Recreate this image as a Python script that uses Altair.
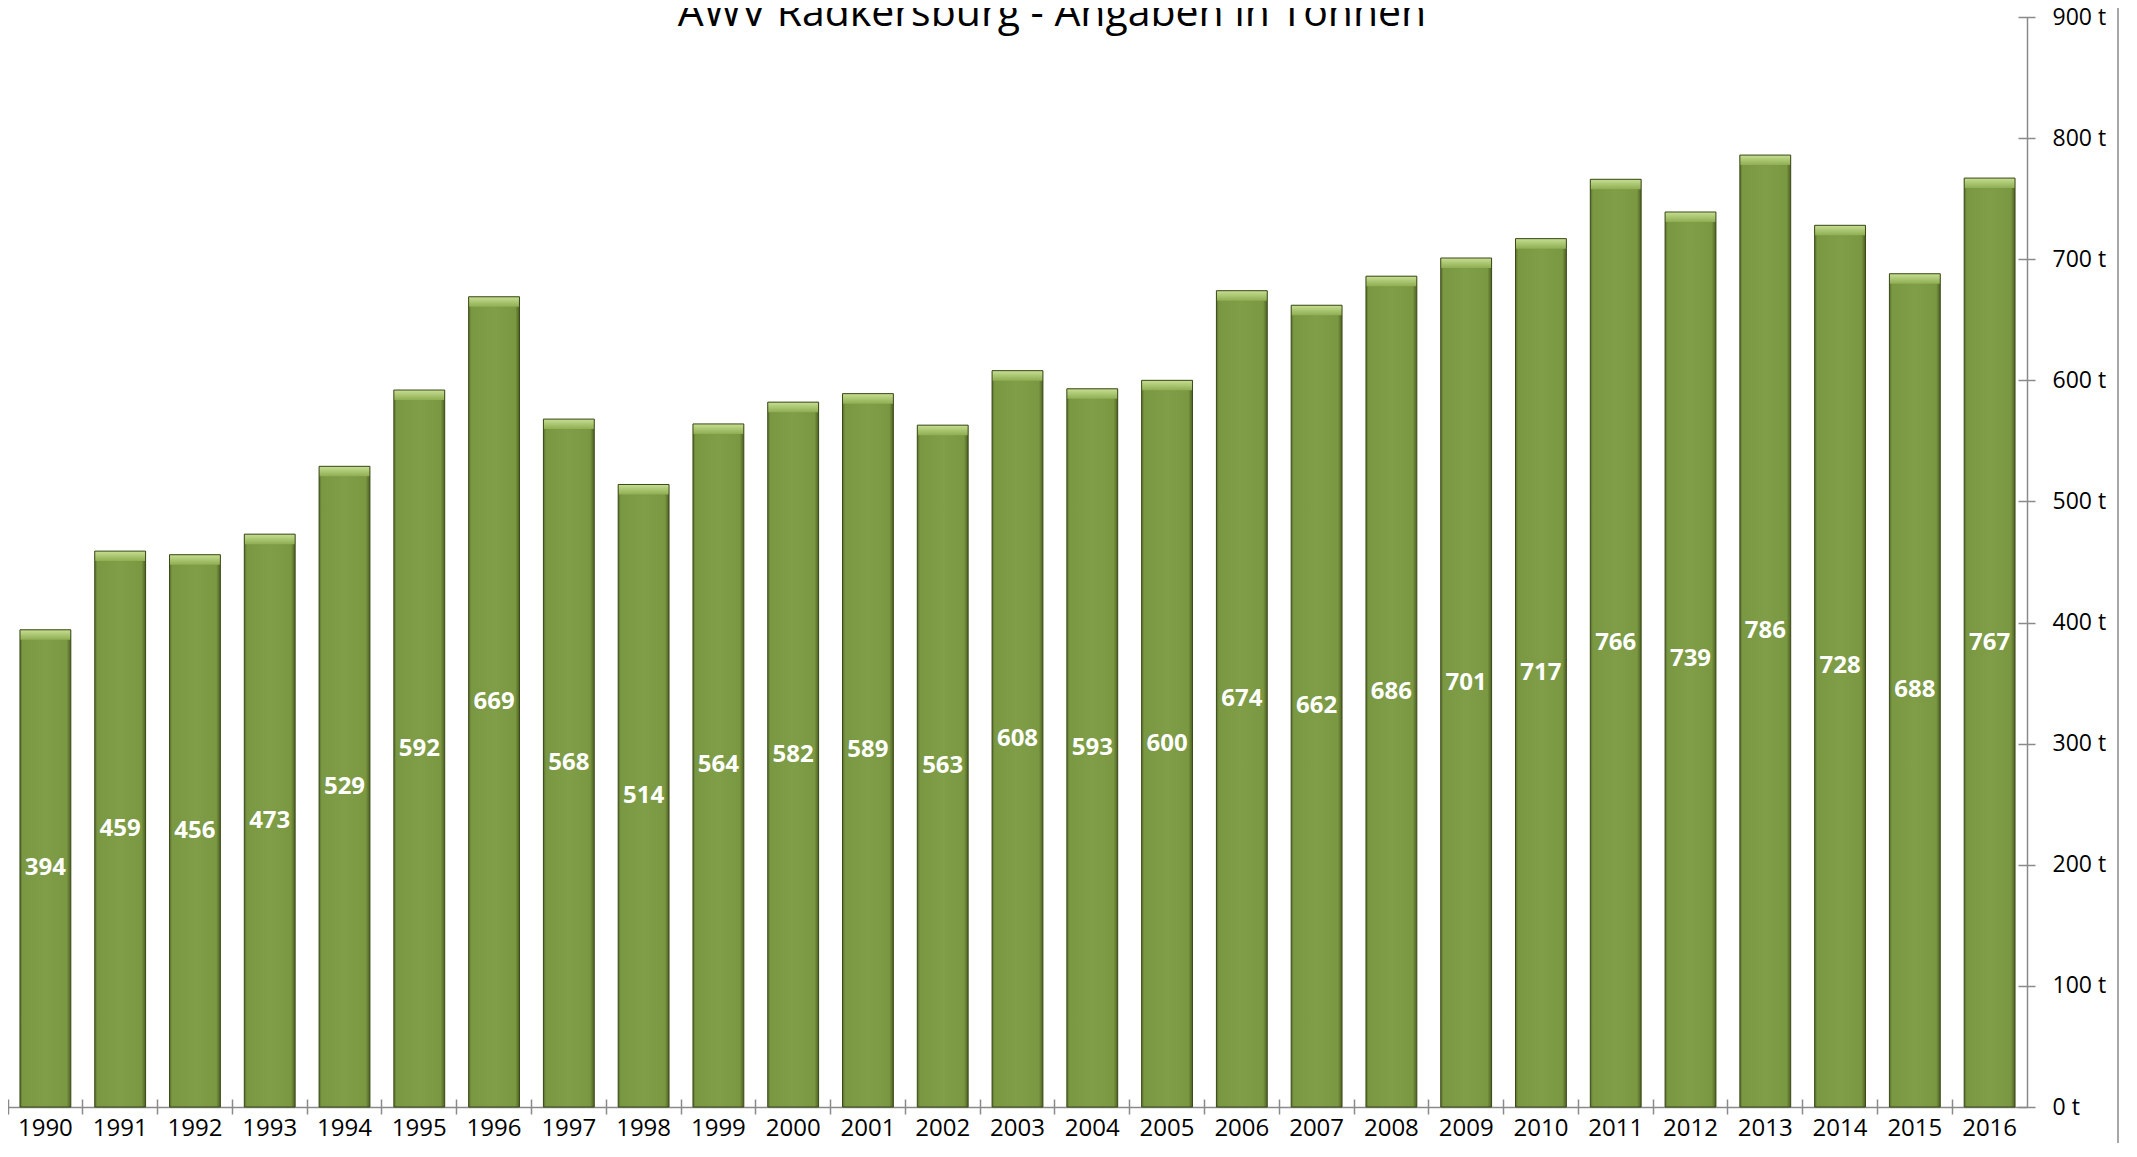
import altair as alt
import pandas as pd

years = [str(y) for y in range(1990, 2017)]
values = [394, 459, 456, 473, 529, 592, 669, 568, 514, 564, 582, 589, 563, 608,
          593, 600, 674, 662, 686, 701, 717, 766, 739, 786, 728, 688, 767]
y_ticks = [0, 100, 200, 300, 400, 500, 600, 700, 800, 900]
title_text = ["AWV Radkersburg - Angaben in Tonnen"]

df = pd.DataFrame({"year": years, "value": values})

AX = "#8a8a8a"
FONT = "Open Sans"

xscale = alt.Scale(paddingInner=0, paddingOuter=0)
yscale = alt.Scale(domain=[0, 900], nice=False)

base = alt.Chart(df)

bar_fill = alt.Gradient(
    gradient="linear", x1=0, x2=1, y1=0, y2=0,
    stops=[alt.GradientStop(color="#566f2a", offset=0),
           alt.GradientStop(color="#7a9742", offset=0.05),
           alt.GradientStop(color="#809d47", offset=0.5),
           alt.GradientStop(color="#7a9742", offset=0.92),
           alt.GradientStop(color="#4d6223", offset=1)])

bevel_fill = alt.Gradient(
    gradient="linear", x1=0, x2=0, y1=0, y2=1,
    stops=[alt.GradientStop(color="#c6df92", offset=0),
           alt.GradientStop(color="#8fae52", offset=1)])

bars = base.mark_bar(width={"band": 0.68}, fill=bar_fill).encode(
    x=alt.X("year:O", scale=xscale, title=None,
            axis=alt.Axis(orient="bottom", offset=-8, tickSize=15, tickColor=AX,
                          tickWidth=1.5, domain=False, bandPosition=0, labelAngle=0,
                          labelFont=FONT, labelFontSize=24, labelColor="black",
                          labelBaseline="alphabetic", labelPadding=21, grid=False)),
    y=alt.Y("value:Q", scale=yscale, title=None,
            axis=alt.Axis(orient="right", values=y_ticks, offset=-9, tickSize=17,
                          tickColor=AX, tickWidth=1.5, domain=False,
                          labelExpr="datum.label + ' t'", labelFont=FONT,
                          labelFontSize=23, labelColor="black", labelPadding=17,
                          labelBaseline="middle", grid=False)),
)

bevel = base.mark_bar(width={"band": 0.68}, fill=bevel_fill, y2Offset=10).encode(
    x=alt.X("year:O", scale=xscale, title=None,
            axis=alt.Axis(orient="bottom", domain=True, domainColor=AX, domainWidth=1.5,
                          ticks=False, labels=False, grid=False)),
    y=alt.Y("value:Q", scale=yscale, title=None,
            axis=alt.Axis(orient="right", domain=True, domainColor=AX, domainWidth=1.5,
                          ticks=False, labels=False, grid=False)),
    y2="value:Q",
)

outline = base.mark_bar(width={"band": 0.68}, fillOpacity=0, stroke="#3a4818",
                        strokeWidth=1).encode(
    x=alt.X("year:O", scale=xscale, axis=None),
    y=alt.Y("value:Q", scale=yscale, axis=None),
)

labels = base.transform_calculate(mid="datum.value / 2").mark_text(
    color="white", font=FONT, fontWeight="bold", fontSize=24,
    align="center", baseline="middle").encode(
    x=alt.X("year:O", scale=xscale, axis=None),
    y=alt.Y("mid:Q", scale=yscale, axis=None),
    text="value:Q",
)

title = alt.Chart(pd.DataFrame({"t": title_text})).mark_text(
    font=FONT, fontSize=41, color="black", align="center", baseline="alphabetic").encode(
    text="t:N", x=alt.value(1044), y=alt.value(9))

border = alt.Chart(pd.DataFrame({"b": [1]})).mark_rule(color=AX, strokeWidth=1.5).encode(
    x=alt.value(2110), y=alt.value(-9), y2=alt.value(1130))

chart = alt.layer(bars, bevel, outline, labels, title, border).resolve_axis(
    x="independent", y="independent"
).properties(
    width=2019, height=1090,
    autosize=alt.AutoSizeParams(type="none"),
    padding={"left": 0, "top": 9, "right": 102, "bottom": 36},
    background="white",
).configure_view(stroke=None)

chart.save("out.html", embed_options={"renderer": "svg", "actions": False})
